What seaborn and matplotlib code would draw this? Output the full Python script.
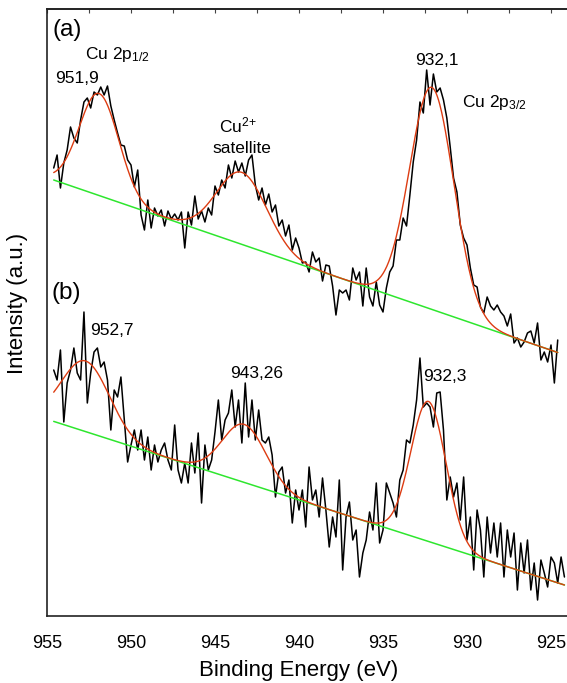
import numpy as np
import pandas as pd
import matplotlib
matplotlib.use("Agg")
import matplotlib.pyplot as plt
import seaborn as sns
from matplotlib.ticker import MultipleLocator

# Binding-energy grids of the two Cu 2p scans (eV), 0.2 eV steps
energy_a = np.round(np.arange(954.6, 924.59, -0.2), 1)
energy_b = np.round(np.arange(954.6, 924.19, -0.2), 1)

# Raw intensities (arb. units, spectrum (b) offset below (a))
counts_a = [448, 461, 428, 453, 466, 489, 478, 473, 496, 514,
            518, 508, 524, 521, 529, 521, 530, 510, 496, 483,
            471, 470, 456, 451, 429, 446, 401, 386, 416, 388,
            408, 400, 406, 390, 405, 397, 402, 396, 404, 368,
            404, 391, 420, 397, 405, 394, 408, 401, 430, 421,
            436, 428, 451, 438, 455, 444, 453, 440, 456, 461,
            431, 416, 428, 411, 422, 404, 411, 390, 396, 380,
            391, 366, 378, 368, 353, 354, 344, 364, 354, 358,
            335, 351, 350, 330, 301, 326, 323, 326, 316, 348,
            336, 344, 310, 348, 319, 310, 334, 311, 304, 328,
            344, 350, 376, 376, 398, 390, 421, 454, 476, 514,
            503, 546, 511, 542, 524, 528, 516, 498, 469, 438,
            424, 391, 378, 371, 348, 331, 329, 309, 303, 319,
            310, 306, 311, 304, 300, 290, 302, 273, 278, 269,
            274, 283, 285, 273, 293, 256, 264, 254, 271, 233,
            276]
counts_b = [246, 236, 266, 194, 233, 246, 268, 243, 236, 304,
            213, 243, 264, 268, 249, 254, 236, 186, 226, 219,
            239, 196, 154, 171, 186, 166, 186, 156, 179, 146,
            171, 154, 166, 173, 156, 146, 191, 146, 133, 153,
            133, 173, 143, 183, 113, 171, 146, 156, 184, 216,
            176, 196, 203, 226, 189, 216, 173, 233, 179, 216,
            176, 206, 176, 173, 179, 161, 119, 144, 149, 123,
            136, 93, 126, 106, 126, 89, 149, 116, 126, 99,
            138, 106, 69, 99, 79, 136, 46, 99, 114, 76,
            86, 39, 63, 76, 104, 86, 133, 73, 86, 133,
            123, 113, 99, 136, 146, 176, 173, 191, 216, 258,
            209, 213, 209, 189, 223, 224, 186, 116, 139, 119,
            133, 96, 139, 76, 99, 46, 106, 86, 39, 99,
            63, 93, 59, 93, 39, 86, 59, 83, 26, 73,
            43, 76, 26, 53, 16, 56, 43, 29, 59, 53,
            33, 59, 39]

# Linear background at the first and last energy of each scan
background_a = [436.0, 263.5]
background_b = [194.6, 31.0]

# Fitted Gaussian components: centre (eV), height, sigma (eV)
centre_a = [951.9, 943.4, 932.1]
height_a = [102.0, 72.0, 222.0]
sigma_a = [1.18, 1.50, 1.31]

centre_b = [952.7, 943.26, 932.3]
height_b = [70.6, 58.0, 140.0]
sigma_b = [1.43, 1.31, 1.04]


def background(e, grid, ends):
    return np.interp(e, [grid[-1], grid[0]], [ends[1], ends[0]])


def envelope(e, grid, ends, centres, heights, sigmas):
    y = background(e, grid, ends)
    for c, h, s in zip(centres, heights, sigmas):
        y = y + h * np.exp(-0.5 * ((e - c) / s) ** 2)
    return y


sns.set_style("white")
plt.rcParams["font.family"] = ["Liberation Sans", "DejaVu Sans"]
plt.rcParams["mathtext.fontset"] = "custom"
plt.rcParams["mathtext.rm"] = "Liberation Sans"
plt.rcParams["mathtext.it"] = "Liberation Sans:italic"
plt.rcParams["text.color"] = "black"
plt.rcParams["axes.labelcolor"] = "black"
plt.rcParams["xtick.color"] = "black"
plt.rcParams["ytick.color"] = "black"

W, H = 567, 683
fig = plt.figure(figsize=(W / 100, H / 100), dpi=100)
ax = fig.add_axes([47 / W, (H - 616) / H, 523 / W, 607 / H])

BLACK, RED, GREEN = "black", "#dd3c12", "#2ee62e"

for grid, counts, ends, cen, hgt, sig in (
    (energy_a, counts_a, background_a, centre_a, height_a, sigma_a),
    (energy_b, counts_b, background_b, centre_b, height_b, sigma_b),
):
    df = pd.DataFrame({"energy": grid, "counts": counts})
    sns.lineplot(data=df, x="energy", y="counts", ax=ax, color=BLACK,
                 lw=1.1, estimator=None, sort=False, zorder=2)
    ends_e = np.array([grid[0], grid[-1]])
    sns.lineplot(x=ends_e, y=background(ends_e, grid, ends), ax=ax,
                 color=GREEN, lw=1.1, estimator=None, sort=False, zorder=3)
    fine = np.linspace(grid[0], grid[-1], 800)
    sns.lineplot(x=fine, y=envelope(fine, grid, ends, cen, hgt, sig), ax=ax,
                 color=RED, lw=1.0, estimator=None, sort=False, zorder=4)

ax.set_xlim(955, 955 - 523 / 16.8)
ax.set_ylim(0, 607)

ax.xaxis.set_major_locator(MultipleLocator(5))
ax.xaxis.set_minor_locator(MultipleLocator(2.5))
ax.tick_params(axis="x", which="major", direction="out", length=8, width=1.0,
               labelsize=13, pad=6, top=False, color="#222222", labelcolor="black")
ax.tick_params(axis="x", which="minor", direction="out", length=4, width=1.0,
               top=False, color="#222222")
ax.set_yticks(np.arange(64, 600, 77.6))
ax.tick_params(axis="y", which="major", direction="in", length=4, width=1.0,
               labelleft=False, color="#222222")

top = ax.secondary_xaxis("top")
top.xaxis.set_major_locator(MultipleLocator(2.5))
top.tick_params(direction="in", length=3, width=0.8, labeltop=False, color="#444444")
top.spines["top"].set_linewidth(1.2)
top.spines["top"].set_color("#222222")

for side in ("left", "bottom", "top"):
    ax.spines[side].set_linewidth(1.2)
    ax.spines[side].set_color("#222222")
ax.spines["right"].set_visible(False)

ax.set_xlabel("Binding Energy (eV)", fontsize=16, color="black")
ax.xaxis.set_label_coords(0.482, -0.072)
ax.set_ylabel("Intensity (a.u.)", fontsize=16, color="black")
ax.yaxis.set_label_coords(-0.037, 0.515)

fs = 12.5
ax.text(953.81, 586, "(a)", fontsize=17.5, ha="center", va="center")
ax.text(953.87, 323, "(b)", fontsize=17.5, ha="center", va="center")
ax.text(952.74, 557, r"Cu 2p$_{\mathregular{1/2}}$", fontsize=fs, ha="left", va="baseline")
ax.text(954.52, 533, "951,9", fontsize=fs, ha="left", va="baseline")
ax.text(943.63, 484, r"Cu$^{\mathregular{2{+}}}$", fontsize=fs, ha="center", va="baseline")
ax.text(943.39, 463, "satellite", fontsize=fs, ha="center", va="baseline")
ax.text(931.79, 551, "932,1", fontsize=fs, ha="center", va="baseline")
ax.text(930.30, 509, r"Cu 2p$_{\mathregular{3/2}}$", fontsize=fs, ha="left", va="baseline")
ax.text(952.44, 281, "952,7", fontsize=fs, ha="left", va="baseline")
ax.text(944.11, 238, "943,26", fontsize=fs, ha="left", va="baseline")
ax.text(932.62, 235, "932,3", fontsize=fs, ha="left", va="baseline")

fig.savefig("out.png", dpi=100)
